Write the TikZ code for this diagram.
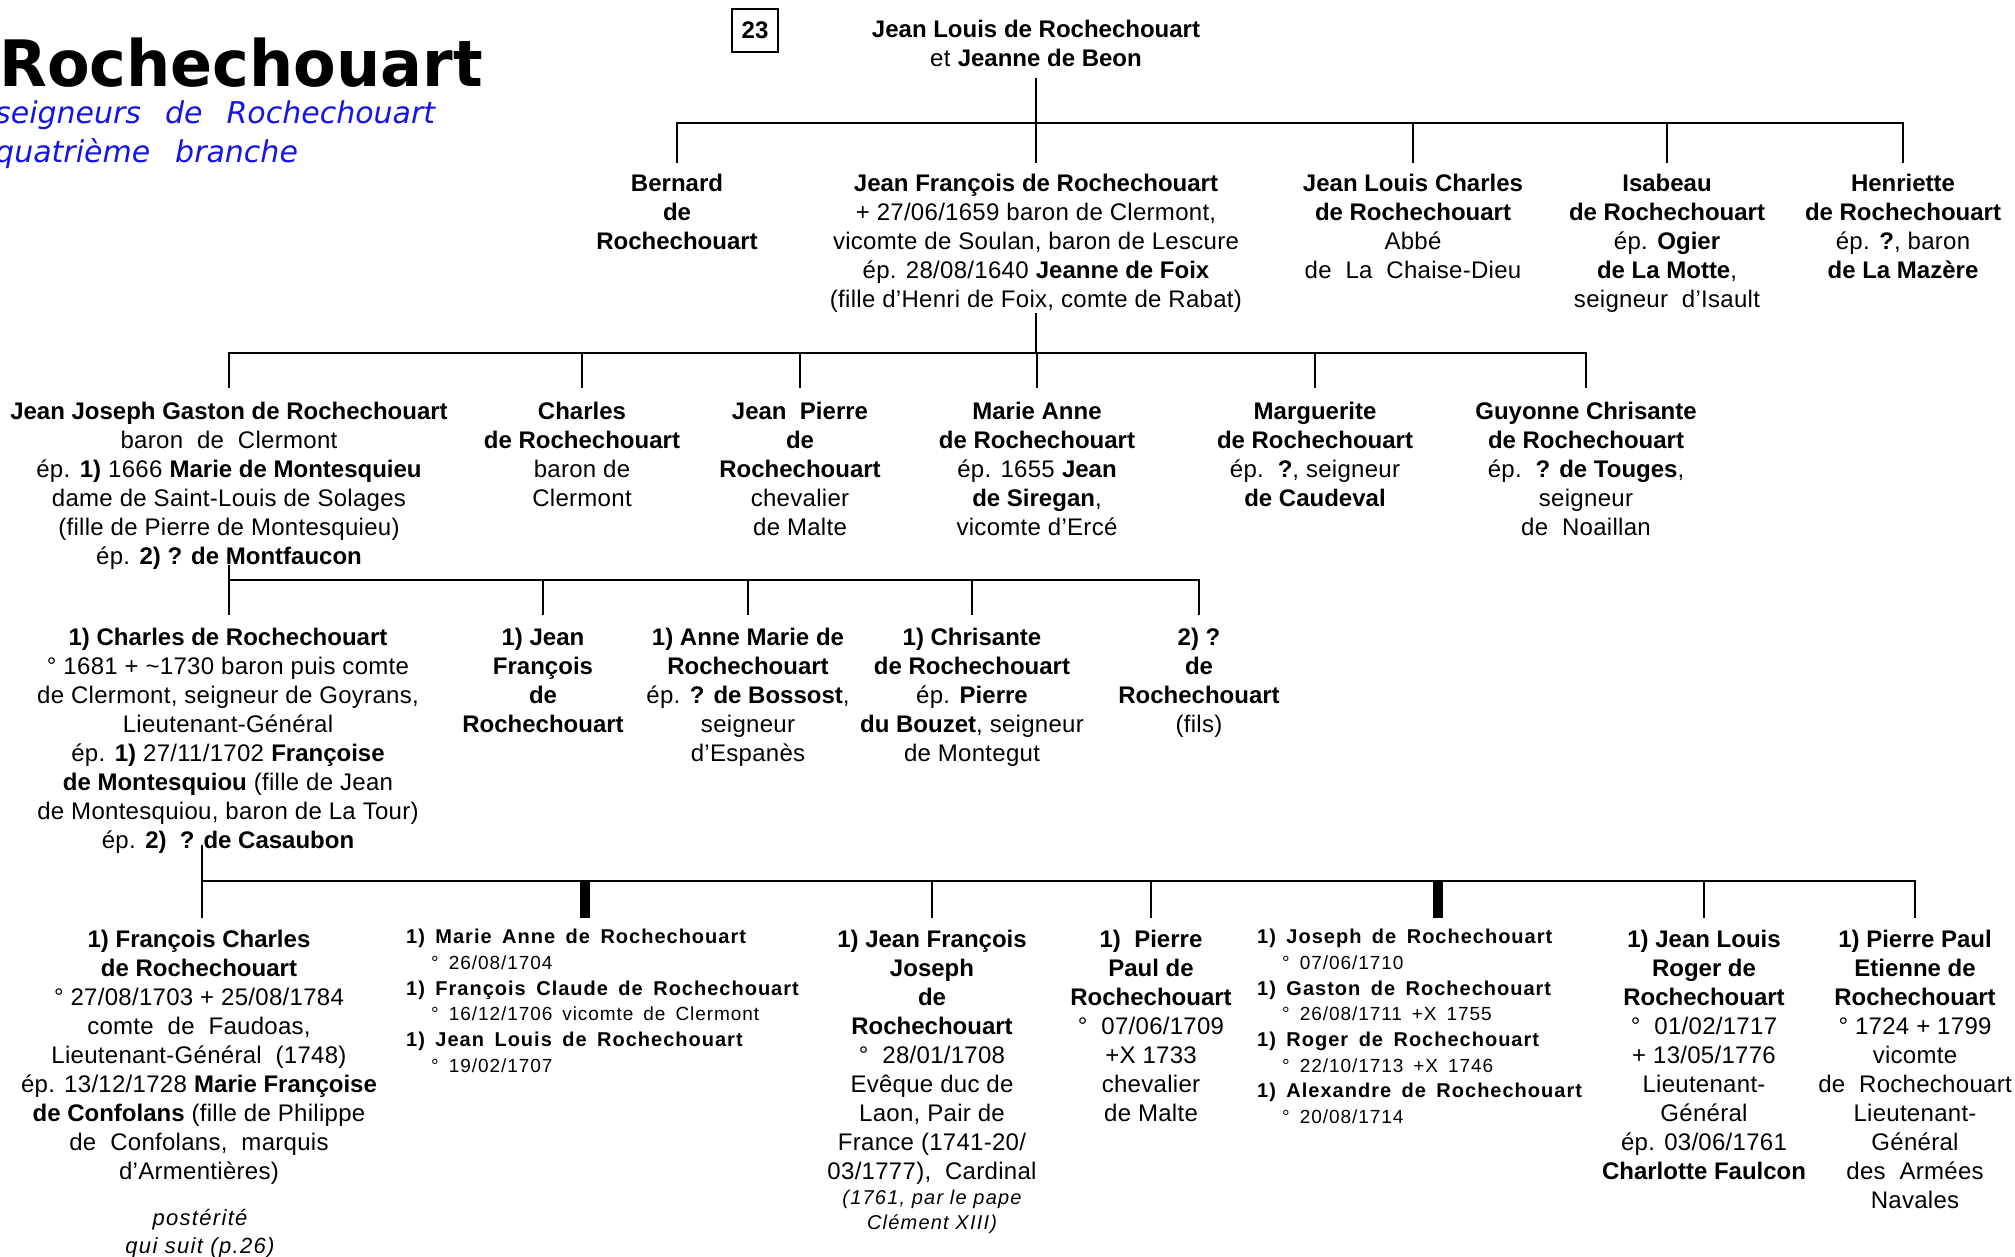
\documentclass[tikz,border=0pt]{standalone}
\usepackage{fontspec}
\setmainfont{Liberation Sans}[UprightFeatures={LetterSpace=1.2}]
\newfontfamily\titlefont{DejaVu Sans}[FakeStretch=0.97]
\newfontfamily\subfont{DejaVu Sans}
\newfontfamily\lsfont{Liberation Sans}[LetterSpace=5,WordSpace=1.6]
\newfontfamily\itfont{Liberation Sans}[LetterSpace=6]
\usetikzlibrary{calc}
\definecolor{subblue}{RGB}{20,20,235}
\newcommand\lsname[1]{{\bfseries #1}}
\newcommand\lsdate[1]{\hspace*{25pt}{\fontsize{19}{25.7}\selectfont #1}}
\tikzset{
  pers/.style={align=center, inner sep=0pt, anchor=north,
    font=\fontsize{24}{29}\selectfont,
    execute at begin node=\strut, execute at end node=\strut},
  listst/.style={align=left, inner sep=0pt, anchor=north west,
    font=\lsfont\fontsize{20}{25.7}\selectfont,
    execute at begin node=\strut},
  itnote/.style={align=center, inner sep=0pt, anchor=north,
    font=\itfont\itshape\fontsize{20}{25}\selectfont,
    execute at begin node=\strut},
  titlestyle/.style={anchor=base west, inner sep=0pt,
    font=\titlefont\bfseries\fontsize{64}{70}\selectfont},
  substyle/.style={anchor=base west, inner sep=0pt, text=subblue,
    font=\subfont\itshape\fontsize{30}{36}\selectfont},
  numbox/.style={draw, line width=2.2pt, minimum width=46pt, minimum height=43pt,
    inner sep=0pt, font=\bfseries\fontsize{24}{29}\selectfont},
  conn/.style={line width=2.6pt},
  thickdrop/.style={line width=10pt}
}
\begin{document}
\begin{tikzpicture}[x=1pt,y=-1pt]
\fill[white] (0,0) rectangle (2015,1257);
\useasboundingbox (0,0) rectangle (2015,1257);

% ---------- header ----------
\node[titlestyle] (title) at (-1,87) {Rochechouart};
\node[substyle] (sub1) at (-5,124) {seigneurs\hspace{24pt}de\hspace{24pt}Rochechouart};
\node[substyle] (sub2) at (-5,163) {quatrième\hspace{25pt}branche};
\node[numbox] (num) at (755,30.5) {23};

% ---------- generation 1 ----------
\node[pers] (top) at (1036,20.4) {\textbf{Jean Louis de Rochechouart}\\et \textbf{Jeanne de Beon}};

% ---------- generation 2 ----------
\node[pers] (bern) at (677,174.2) {\textbf{Bernard}\\\textbf{de}\\\textbf{Rochechouart}};
\node[pers] (jf) at (1036,174.2) {\textbf{Jean François de Rochechouart}\\+ 27/06/1659 baron de Clermont,\\vicomte de Soulan, baron de Lescure\\ép. 28/08/1640 \textbf{Jeanne de Foix}\\(fille d’Henri de Foix, comte de Rabat)};
\node[pers] (jlc) at (1413,174.2) {\textbf{Jean Louis Charles}\\\textbf{de Rochechouart}\\Abbé\\de\ \ La\ \ Chaise-Dieu};
\node[pers] (isa) at (1667,174.2) {\textbf{Isabeau}\\\textbf{de Rochechouart}\\ép. \textbf{Ogier}\\\textbf{de La Motte},\\seigneur\ \ d’Isault};
\node[pers] (henr) at (1903,174.2) {\textbf{Henriette}\\\textbf{de Rochechouart}\\ép. \textbf{?}, baron\\\textbf{de La Mazère}};

% ---------- generation 3 ----------
\node[pers] (jjg) at (229,401.7) {\textbf{Jean Joseph Gaston de Rochechouart}\\baron\ \ de\ \ Clermont\\ép. \textbf{1)} 1666 \textbf{Marie de Montesquieu}\\dame de Saint-Louis de Solages\\(fille de Pierre de Montesquieu)\\ép. \textbf{2) ? de Montfaucon}};
\node[pers] (cha) at (582,401.7) {\textbf{Charles}\\\textbf{de Rochechouart}\\baron de\\Clermont};
\node[pers] (jp) at (800,401.7) {\textbf{Jean\ \ Pierre}\\\textbf{de}\\\textbf{Rochechouart}\\chevalier\\de Malte};
\node[pers] (ma) at (1037,401.7) {\textbf{Marie Anne}\\\textbf{de Rochechouart}\\ép. 1655 \textbf{Jean}\\\textbf{de Siregan},\\vicomte d’Ercé};
\node[pers] (mar) at (1315,401.7) {\textbf{Marguerite}\\\textbf{de Rochechouart}\\ép.\ \ \textbf{?}, seigneur\\\textbf{de Caudeval}};
\node[pers] (guy) at (1586,401.7) {\textbf{Guyonne Chrisante}\\\textbf{de Rochechouart}\\ép.\ \ \textbf{? de Touges},\\seigneur\\de\ \ Noaillan};

% ---------- generation 4 ----------
\node[pers] (c1) at (228,627.5) {\textbf{1) Charles de Rochechouart}\\° 1681 + \textasciitilde1730 baron puis comte\\de Clermont, seigneur de Goyrans,\\Lieutenant-Général\\ép. \textbf{1)} 27/11/1702 \textbf{Françoise}\\\textbf{de Montesquiou} (fille de Jean\\de Montesquiou, baron de La Tour)\\ép. \textbf{2)\ \ ? de Casaubon}};
\node[pers] (jfr) at (543,627.5) {\textbf{1) Jean}\\\textbf{François}\\\textbf{de}\\\textbf{Rochechouart}};
\node[pers] (am) at (748,627.5) {\textbf{1) Anne Marie de}\\\textbf{Rochechouart}\\ép. \textbf{? de Bossost},\\seigneur\\d’Espanès};
\node[pers] (chr) at (972,627.5) {\textbf{1) Chrisante}\\\textbf{de Rochechouart}\\ép. \textbf{Pierre}\\\textbf{du Bouzet}, seigneur\\de Montegut};
\node[pers] (q2) at (1199,627.5) {\textbf{2) ?}\\\textbf{de}\\\textbf{Rochechouart}\\(fils)};

% ---------- generation 5 ----------
\node[pers] (fc) at (199,930.2) {\textbf{1) François Charles}\\\textbf{de Rochechouart}\\° 27/08/1703 + 25/08/1784\\comte\ \ de\ \ Faudoas,\\Lieutenant-Général\ \ (1748)\\ép. 13/12/1728 \textbf{Marie Françoise}\\\textbf{de Confolans} (fille de Philippe\\de\ \ Confolans,\ \ marquis\\d’Armentières)};
\node[itnote, font=\itfont\itshape\fontsize{22}{28}\selectfont] (post) at (200,1209) {postérité\\qui suit (p.26)};
\node[listst] (l1) at (406,929) {\lsname{1) Marie Anne de Rochechouart}\\
\lsdate{° 26/08/1704}\\
\lsname{1) François Claude de Rochechouart}\\
\lsdate{° 16/12/1706 vicomte de Clermont}\\
\lsname{1) Jean Louis de Rochechouart}\\
\lsdate{° 19/02/1707}};
\node[pers] (jfj) at (932,930.2) {\textbf{1) Jean François}\\\textbf{Joseph}\\\textbf{de}\\\textbf{Rochechouart}\\°\ \ 28/01/1708\\Evêque duc de\\Laon, Pair de\\France (1741-20/\\03/1777),\ \ Cardinal};
\node[itnote] (jfjn) at (932,1189.5) {(1761, par le pape\\Clément XIII)};
\node[pers] (pp) at (1151,930.2) {\textbf{1)\ \ Pierre}\\\textbf{Paul de}\\\textbf{Rochechouart}\\°\ \ 07/06/1709\\+X 1733\\chevalier\\de Malte};
\node[listst] (l2) at (1257,929) {\lsname{1) Joseph de Rochechouart}\\
\lsdate{° 07/06/1710}\\
\lsname{1) Gaston de Rochechouart}\\
\lsdate{° 26/08/1711 +X 1755}\\
\lsname{1) Roger de Rochechouart}\\
\lsdate{° 22/10/1713 +X 1746}\\
\lsname{1) Alexandre de Rochechouart}\\
\lsdate{° 20/08/1714}};
\node[pers] (jlr) at (1704,930.2) {\textbf{1) Jean Louis}\\\textbf{Roger de}\\\textbf{Rochechouart}\\°\ \ 01/02/1717\\+ 13/05/1776\\Lieutenant-\\Général\\ép. 03/06/1761\\\textbf{Charlotte Faulcon}};
\node[pers] (ppe) at (1915,930.2) {\textbf{1) Pierre Paul}\\\textbf{Etienne de}\\\textbf{Rochechouart}\\° 1724 + 1799\\vicomte\\de\ \ Rochechouart\\Lieutenant-\\Général\\des\ \ Armées\\Navales};

% ---------- connectors ----------
% family 1
\coordinate (bus1) at (1036,123);
\draw[conn] ($(top.south)+(0,2.5)$) -- (bus1);
\draw[conn] ($(bern.north)+(0,-11.5)$) |- (bus1) -| ($(henr.north)+(0,-11.5)$);
\foreach \c in {jf,jlc,isa}
  \draw[conn] (bus1 -| \c.north) -- ($(\c.north)+(0,-11.5)$);

% family 2
\coordinate (bus2) at (1036,353);
\draw[conn] ($(jf.south)+(0,-3.5)$) -- (bus2);
\draw[conn] ($(jjg.north)+(0,-13.5)$) |- (bus2) -| ($(guy.north)+(0,-13.5)$);
\foreach \c in {cha,jp,ma,mar}
  \draw[conn] (bus2 -| \c.north) -- ($(\c.north)+(0,-13.5)$);

% family 3
\coordinate (bus3) at (229,580);
\draw[conn] ($(jjg.south)+(0,-8.5)$) -- ($(c1.north -| bus3)+(0,-12.5)$);
\draw[conn] (bus3) -| ($(q2.north)+(0,-12.5)$);
\foreach \c in {jfr,am,chr}
  \draw[conn] (bus3 -| \c.north) -- ($(\c.north)+(0,-12.5)$);

% family 4
\coordinate (bus4) at (202,881);
\coordinate (l1top) at (585,918);
\coordinate (l2top) at (1438,918);
\draw[conn] ($(c1.south -| bus4)+(0,-11.5)$) -- ($(fc.north -| bus4)+(0,-12.5)$);
\draw[conn] (bus4) -| ($(ppe.north)+(0,-12.5)$);
\foreach \c in {jfj,pp,jlr}
  \draw[conn] (bus4 -| \c.north) -- ($(\c.north)+(0,-12.5)$);
\draw[thickdrop] (bus4 -| l1top) -- (l1top);
\draw[thickdrop] (bus4 -| l2top) -- (l2top);
\end{tikzpicture}
\end{document}
